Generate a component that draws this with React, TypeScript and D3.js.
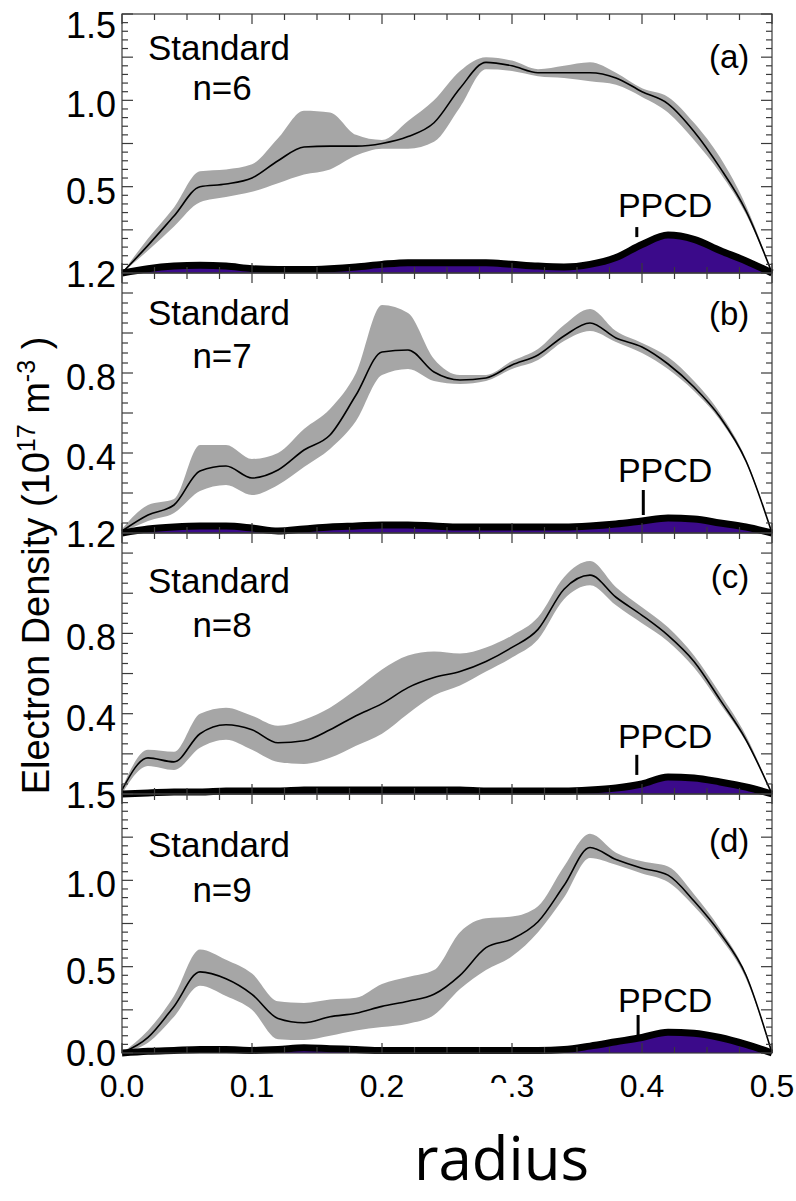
import React, { useEffect, useRef } from "react";
import * as d3 from "d3";

// radius grid shared by all four profiles
const radius = [0, 0.02, 0.04, 0.06, 0.08, 0.1, 0.12, 0.14, 0.16, 0.18, 0.2, 0.22, 0.24, 0.26, 0.28, 0.3, 0.32, 0.34, 0.36, 0.38, 0.4, 0.42, 0.44, 0.46, 0.48, 0.5];

// (a) n=6
const meanA = [0.0, 0.16, 0.33, 0.5, 0.515, 0.55, 0.65, 0.73, 0.735, 0.735, 0.75, 0.79, 0.87, 1.07, 1.22, 1.2, 1.16, 1.16, 1.16, 1.13, 1.05, 0.98, 0.82, 0.61, 0.36, 0.0];
const lowA = [0.0, 0.13, 0.27, 0.41, 0.44, 0.47, 0.52, 0.57, 0.6, 0.68, 0.72, 0.72, 0.76, 0.96, 1.18, 1.17, 1.14, 1.13, 1.11, 1.09, 1.02, 0.93, 0.77, 0.58, 0.34, 0.0];
const highA = [0.0, 0.2, 0.38, 0.59, 0.6, 0.63, 0.78, 0.94, 0.93, 0.8, 0.77, 0.88, 1.0, 1.17, 1.25, 1.23, 1.18, 1.2, 1.22, 1.16, 1.07, 1.02, 0.87, 0.67, 0.39, 0.0];
const ppcdA = [0.0, 0.025, 0.04, 0.045, 0.04, 0.025, 0.02, 0.02, 0.025, 0.035, 0.05, 0.06, 0.06, 0.06, 0.06, 0.05, 0.04, 0.035, 0.05, 0.09, 0.165, 0.22, 0.195, 0.13, 0.07, 0.0];

// (b) n=7
const meanB = [0.01, 0.09, 0.14, 0.31, 0.335, 0.275, 0.315, 0.415, 0.49, 0.69, 0.905, 0.915, 0.805, 0.765, 0.775, 0.84, 0.89, 0.985, 1.05, 0.975, 0.93, 0.845, 0.73, 0.58, 0.36, 0.0];
const lowB = [0.0, 0.06, 0.1, 0.21, 0.24, 0.19, 0.24, 0.33, 0.42, 0.56, 0.79, 0.82, 0.76, 0.745, 0.76, 0.82, 0.865, 0.96, 1.01, 0.955, 0.9, 0.82, 0.71, 0.565, 0.35, 0.0];
const highB = [0.02, 0.14, 0.17, 0.44, 0.44, 0.37, 0.4, 0.52, 0.62, 0.8, 1.14, 1.1, 0.87, 0.79, 0.79, 0.86, 0.92, 1.04, 1.12, 1.01, 0.95, 0.88, 0.76, 0.6, 0.37, 0.0];
const ppcdB = [0.0, 0.02, 0.03, 0.035, 0.035, 0.025, 0.01, 0.02, 0.03, 0.035, 0.04, 0.04, 0.035, 0.03, 0.03, 0.03, 0.03, 0.03, 0.035, 0.045, 0.06, 0.075, 0.07, 0.05, 0.03, 0.0];

// (c) n=8
const meanC = [0.02, 0.18, 0.16, 0.3, 0.345, 0.32, 0.255, 0.265, 0.32, 0.39, 0.45, 0.53, 0.58, 0.61, 0.66, 0.73, 0.82, 1.02, 1.09, 0.98, 0.89, 0.79, 0.66, 0.47, 0.27, 0.0];
const lowC = [0.0, 0.14, 0.12, 0.23, 0.27, 0.22, 0.16, 0.15, 0.18, 0.24, 0.3, 0.4, 0.49, 0.54, 0.61, 0.68, 0.77, 0.97, 1.04, 0.94, 0.85, 0.76, 0.63, 0.45, 0.26, 0.0];
const highC = [0.03, 0.22, 0.21, 0.4, 0.43, 0.39, 0.34, 0.37, 0.43, 0.52, 0.62, 0.69, 0.71, 0.7, 0.73, 0.79, 0.88, 1.08, 1.16, 1.03, 0.93, 0.83, 0.69, 0.5, 0.29, 0.0];
const ppcdC = [0.0, 0.005, 0.01, 0.01, 0.015, 0.015, 0.015, 0.02, 0.02, 0.02, 0.02, 0.02, 0.02, 0.02, 0.015, 0.015, 0.015, 0.015, 0.02, 0.03, 0.05, 0.085, 0.08, 0.06, 0.035, 0.0];

// (d) n=9
const meanD = [0.0, 0.09, 0.27, 0.47, 0.43, 0.34, 0.2, 0.175, 0.21, 0.23, 0.27, 0.3, 0.34, 0.45, 0.61, 0.66, 0.76, 0.97, 1.19, 1.12, 1.07, 1.03, 0.88, 0.695, 0.45, 0.0];
const lowD = [0.0, 0.06, 0.21, 0.39, 0.33, 0.25, 0.08, 0.075, 0.1, 0.13, 0.15, 0.17, 0.22, 0.37, 0.48, 0.56, 0.7, 0.9, 1.13, 1.09, 1.04, 0.99, 0.85, 0.67, 0.43, 0.0];
const highD = [0.0, 0.13, 0.33, 0.6, 0.54, 0.46, 0.3, 0.29, 0.31, 0.32, 0.4, 0.44, 0.48, 0.7, 0.78, 0.79, 0.85, 1.08, 1.27, 1.16, 1.11, 1.08, 0.92, 0.72, 0.46, 0.0];
const ppcdD = [0.0, 0.01, 0.015, 0.02, 0.02, 0.015, 0.02, 0.03, 0.025, 0.02, 0.015, 0.015, 0.015, 0.015, 0.015, 0.015, 0.015, 0.02, 0.04, 0.065, 0.09, 0.12, 0.115, 0.09, 0.05, 0.0];

const panelTags = ["(a)", "(b)", "(c)", "(d)"];
const modeLabels = ["n=6", "n=7", "n=8", "n=9"];
const yMaxes = [1.5, 1.3, 1.3, 1.5];
const yLabelValues = [[0.5, 1.0], [0.4, 0.8], [0.4, 0.8], [0.5, 1.0]];
const yMajorSteps = [0.25, 0.2, 0.2, 0.25];
const topLabels = ["1.5", "1.2", "1.2", "1.5"];
const bottomLabel = "0.0";
const xTickValues = [0, 0.1, 0.2, 0.3, 0.4, 0.5];

// annotation anchors, in each panel's data units
const standardAt = [1.233, 1.04, 1.0, 1.135];
const modeAt = [1.0, 0.825, 0.78, 0.875];
const tagAt = [1.187, 1.04, 1.025, 1.164];
const ppcdTextAt = [0.324, 0.255, 0.23, 0.237];
const ppcdMarkTop = [0.266, 0.215, 0.195, 0.22];
const ppcdMarkBottom = [0.208, 0.09, 0.095, 0.093];
const ppcdMarkR = [0.396, 0.401, 0.396, 0.397];

const W = 796;
const H = 1201;
const left = 122;
const right = 772;
const panelEdges = [14, 273, 533, 794, 1053];

const GRAY = "#a6a6a6";
const PURPLE = "#3b0a8a";
const AXIS = "#3a3a3a";
const FONT = "'Liberation Sans', Arial, Helvetica, sans-serif";
const LABEL_SIZE = 36;

export default function App() {
  const ref = useRef<SVGSVGElement>(null);

  useEffect(() => {
    document.body.style.margin = "0";
    const svg = d3.select(ref.current);
    svg.selectAll("*").remove();

    const series = [
      { mean: meanA, low: lowA, high: highA, ppcd: ppcdA },
      { mean: meanB, low: lowB, high: highB, ppcd: ppcdB },
      { mean: meanC, low: lowC, high: highC, ppcd: ppcdC },
      { mean: meanD, low: lowD, high: highD, ppcd: ppcdD },
    ];

    const x = d3.scaleLinear().domain([0, 0.5]).range([left, right]);

    series.forEach((s, p) => {
      const top = panelEdges[p];
      const bottom = panelEdges[p + 1];
      const y = d3.scaleLinear().domain([0, yMaxes[p]]).range([bottom, top]);
      const g = svg.append("g");

      // spread band
      const band = d3.area<number>()
        .x((d, i) => x(radius[i]))
        .y0((d, i) => y(s.low[i]))
        .y1((d, i) => y(s.high[i]))
        .curve(d3.curveMonotoneX);
      g.append("path").attr("d", band(s.mean)).attr("fill", GRAY);

      // mean profile
      const line = d3.line<number>()
        .x((d, i) => x(radius[i]))
        .y((d) => y(d))
        .curve(d3.curveMonotoneX);
      g.append("path").attr("d", line(s.mean))
        .attr("fill", "none").attr("stroke", "#000").attr("stroke-width", 1.6);

      // PPCD profile, filled
      const ppcdArea = d3.area<number>()
        .x((d, i) => x(radius[i]))
        .y0(y(0))
        .y1((d) => y(d))
        .curve(d3.curveMonotoneX);
      g.append("path").attr("d", ppcdArea(s.ppcd)).attr("fill", PURPLE);
      g.append("path").attr("d", line(s.ppcd))
        .attr("fill", "none").attr("stroke", "#000").attr("stroke-width", 7);

      // frame
      g.append("rect")
        .attr("x", left).attr("y", top)
        .attr("width", right - left).attr("height", bottom - top)
        .attr("fill", "none").attr("stroke", AXIS).attr("stroke-width", 1.2);

      // y ticks (inward, both sides)
      d3.range(0, yMaxes[p] + 1e-9, 0.05).forEach((v) => {
        const yy = y(v);
        const isMajor = Math.abs(v / yMajorSteps[p] - Math.round(v / yMajorSteps[p])) < 1e-6;
        const len = isMajor ? 11 : 6;
        g.append("line").attr("x1", left).attr("x2", left + len).attr("y1", yy).attr("y2", yy)
          .attr("stroke", AXIS).attr("stroke-width", 1.2);
        g.append("line").attr("x1", right).attr("x2", right - len).attr("y1", yy).attr("y2", yy)
          .attr("stroke", AXIS).attr("stroke-width", 1.2);
      });

      // x ticks (inward, top and bottom)
      d3.range(0, 0.5 + 1e-9, 0.025).forEach((r) => {
        const xx = x(r);
        const isMajor = Math.abs(r * 10 - Math.round(r * 10)) < 1e-6;
        const len = isMajor ? 10 : 6;
        g.append("line").attr("x1", xx).attr("x2", xx).attr("y1", top).attr("y2", top + len)
          .attr("stroke", AXIS).attr("stroke-width", 1.2);
        g.append("line").attr("x1", xx).attr("x2", xx).attr("y1", bottom).attr("y2", bottom - len)
          .attr("stroke", AXIS).attr("stroke-width", 1.2);
      });

      // y tick labels (sit a little below their ticks, as in the original)
      yLabelValues[p].forEach((v) => {
        g.append("text").attr("x", left - 6).attr("y", y(v) + 4).attr("dy", "0.36em")
          .attr("text-anchor", "end").attr("font-family", FONT).attr("font-size", LABEL_SIZE)
          .text(v.toFixed(1));
      });
      g.append("text").attr("x", left - 6).attr("y", top + (p === 0 ? 11 : 1)).attr("dy", "0.36em")
        .attr("text-anchor", "end").attr("font-family", FONT).attr("font-size", LABEL_SIZE)
        .text(topLabels[p]);

      // annotations
      g.append("text").attr("x", x(0.02)).attr("y", y(standardAt[p]))
        .attr("font-family", FONT).attr("font-size", 35).text("Standard");
      g.append("text").attr("x", x(0.077)).attr("y", y(modeAt[p]))
        .attr("text-anchor", "middle").attr("font-family", FONT).attr("font-size", 35).text(modeLabels[p]);
      g.append("text").attr("x", x(0.4825)).attr("y", y(tagAt[p]))
        .attr("text-anchor", "end").attr("font-family", FONT).attr("font-size", 33).text(panelTags[p]);
      g.append("text").attr("x", x(0.3815)).attr("y", y(ppcdTextAt[p]))
        .attr("font-family", FONT).attr("font-size", 34).text("PPCD");
      g.append("line")
        .attr("x1", x(ppcdMarkR[p])).attr("x2", x(ppcdMarkR[p]))
        .attr("y1", y(ppcdMarkTop[p])).attr("y2", y(ppcdMarkBottom[p]))
        .attr("stroke", "#000").attr("stroke-width", 3);
    });

    // bottom axis labels
    const base = panelEdges[4];
    svg.append("text").attr("x", left - 6).attr("y", base).attr("dy", "0.36em")
      .attr("text-anchor", "end").attr("font-family", FONT).attr("font-size", LABEL_SIZE).text(bottomLabel);
    xTickValues.forEach((r) => {
      svg.append("text").attr("x", x(r)).attr("y", base + 44)
        .attr("text-anchor", "middle").attr("font-family", FONT).attr("font-size", 32)
        .text(r.toFixed(1));
    });
    // the "0.3" label is partly rubbed out in the original
    svg.append("rect").attr("x", x(0.3) - 27).attr("y", base + 30)
      .attr("width", 24).attr("height", 20).attr("fill", "#fff");

    // axis titles
    const title = svg.append("text")
      .attr("transform", `translate(49, ${(panelEdges[0] + panelEdges[4]) / 2 + 32}) rotate(-90)`)
      .attr("text-anchor", "middle").attr("font-family", FONT).attr("font-size", 38);
    title.append("tspan").text("Electron Density (10");
    title.append("tspan").attr("dy", -14).attr("font-size", 25).text("17");
    title.append("tspan").attr("dy", 14).text(" m");
    title.append("tspan").attr("dy", -14).attr("font-size", 25).text("-3");
    title.append("tspan").attr("dy", 14).text(" )");

    svg.append("text").attr("x", 414).attr("y", 1180)
      .attr("font-family", "'Open Sans', 'Noto Sans', sans-serif").attr("font-size", 60)
      .text("radius");
  }, []);

  return <svg ref={ref} width={W} height={H} style={{ display: "block", background: "#fff" }} />;
}
